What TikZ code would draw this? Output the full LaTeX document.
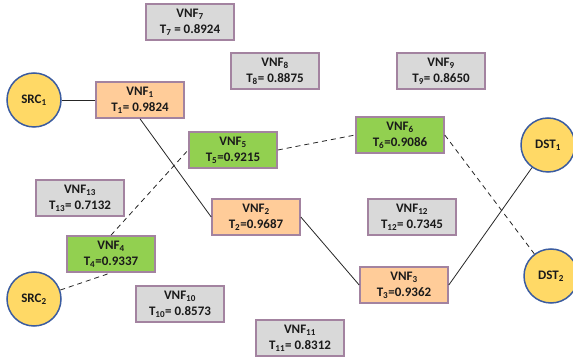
\documentclass[tikz,border=0pt]{standalone}
\usepackage{fontspec}
\setmainfont{Carlito}[BoldFont={Carlito Bold}]
\definecolor{orangefill}{HTML}{FFCC99}
\definecolor{greenfill}{HTML}{92D050}
\definecolor{grayfill}{HTML}{D9D9D9}
\definecolor{boxborder}{HTML}{A383A0}
\definecolor{circfill}{HTML}{FFD966}
\definecolor{circborder}{HTML}{3B5CA0}
\definecolor{txt}{HTML}{1A1A1A}
\tikzset{
  vnf/.style={draw=boxborder, line width=1.6pt, minimum width=88pt, minimum height=36pt,
    inner sep=0pt, align=center, font=\fontsize{13}{16}\selectfont\bfseries, text=txt},
  vnforange/.style={vnf, fill=orangefill},
  vnfgreen/.style={vnf, fill=greenfill},
  vnfgray/.style={vnf, fill=grayfill},
  endpt/.style={circle, draw=circborder, line width=1.5pt, fill=circfill, minimum size=54pt,
    inner sep=0pt, font=\fontsize{13}{16}\selectfont\bfseries, text=txt},
  link/.style={line width=0.8pt, black!85},
  dlink/.style={link, dash pattern=on 5pt off 4pt}
}
\begin{document}
\begin{tikzpicture}[x=1pt,y=-1pt]
\useasboundingbox[fill=white] (0,0) rectangle (573,363);
\node[endpt] (src1) at (34,100) {SRC\textsubscript{1}};
\node[endpt] (src2) at (34,299) {SRC\textsubscript{2}};
\node[endpt] (dst1) at (548,145) {DST\textsubscript{1}};
\node[endpt] (dst2) at (551,276) {DST\textsubscript{2}};

\node[vnforange] (v1) at (140,100) {VNF\textsubscript{1}\\T\textsubscript{1}= 0.9824};
\node[vnforange] (v2) at (256,217) {VNF\textsubscript{2}\\T\textsubscript{2}=0.9687};
\node[vnforange] (v3) at (404,285) {VNF\textsubscript{3}\\T\textsubscript{3}=0.9362};
\node[vnfgreen] (v4) at (111,254) {VNF\textsubscript{4}\\T\textsubscript{4}=0.9337};
\node[vnfgreen] (v5) at (233,150) {VNF\textsubscript{5}\\T\textsubscript{5}=0.9215};
\node[vnfgreen] (v6) at (400,135) {VNF\textsubscript{6}\\T\textsubscript{6}=0.9086};
\node[vnfgray] (v7) at (190,22) {VNF\textsubscript{7}\\T\textsubscript{7} = 0.8924};
\node[vnfgray] (v8) at (275,71) {VNF\textsubscript{8}\\T\textsubscript{8}= 0.8875};
\node[vnfgray] (v9) at (441,71) {VNF\textsubscript{9}\\T\textsubscript{9}= 0.8650};
\node[vnfgray] (v10) at (180,304) {VNF\textsubscript{10}\\T\textsubscript{10}= 0.8573};
\node[vnfgray] (v11) at (300,338) {VNF\textsubscript{11}\\T\textsubscript{11}= 0.8312};
\node[vnfgray] (v12) at (412,217) {VNF\textsubscript{12}\\T\textsubscript{12}= 0.7345};
\node[vnfgray] (v13) at (80,198) {VNF\textsubscript{13}\\T\textsubscript{13}= 0.7132};

\draw[link] (src1) -- (v1);
\draw[link] (v1.south) -- (v2.west);
\draw[link] (v2.east) -- (v3.west);
\draw[link] (v3.east) -- (dst1);
\draw[dlink] (src2) -- (v4.south);
\draw[dlink] (v4.north) -- (v5.west);
\draw[dlink] (v5.east) -- (v6.west);
\draw[dlink] (v6.east) -- (dst2);
\end{tikzpicture}
\end{document}
